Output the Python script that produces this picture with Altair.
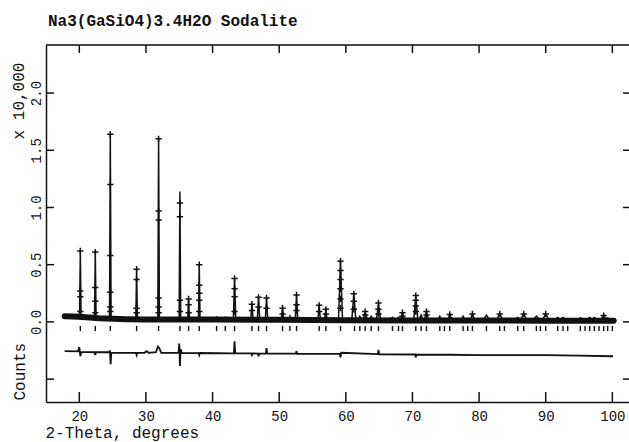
import altair as alt
import pandas as pd

TITLE = "Na3(GaSiO4)3.4H2O Sodalite"
X_TITLE = "2-Theta, degrees"
Y_TITLE = "Counts"
Y_NOTE = "x 10,000"

x_domain = [15, 102.5]
y_domain = [-0.70, 2.42]
x_ticks = [20, 30, 40, 50, 60, 70, 80, 90, 100]
y_ticks = [-0.5, 0.0, 0.5, 1.0, 1.5, 2.0]
y_label_values = [0.0, 0.5, 1.0, 1.5, 2.0]

# observed background band (x 10,000 counts)
bg_x = [17.8, 19.0, 20.0, 21.5, 23.0, 25.0, 27.0, 30.0, 35.0, 40.0, 50.0, 60.0, 70.0, 80.0, 90.0, 100.2]
bg_y = [0.050, 0.048, 0.045, 0.038, 0.032, 0.027, 0.024, 0.022, 0.021, 0.020, 0.018, 0.015, 0.013, 0.012, 0.011, 0.010]

# calculated profile peaks
peak_pos = [20.15, 22.4, 24.65, 28.6, 31.9, 35.1, 36.4, 38.0, 40.6, 41.9,
            43.3, 45.9, 46.9, 48.1, 50.5, 51.6, 52.6, 56.0, 57.0, 59.2,
            61.2, 62.1, 62.9, 63.8, 64.9, 67.0, 67.9, 68.5, 70.5, 71.3,
            72.1, 74.1, 74.8, 75.6, 77.6, 78.3, 79.0, 81.1, 83.1, 83.8,
            85.8, 86.7, 88.6, 89.2, 90.0, 91.8, 92.6, 93.3, 95.2, 96.6,
            97.3, 98.7, 99.3]
peak_h = [0.62, 0.61, 1.64, 0.46, 1.60, 1.14, 0.20, 0.50, 0.04, 0.04,
          0.38, 0.155, 0.215, 0.21, 0.12, 0.05, 0.235, 0.145, 0.11, 0.53,
          0.245, 0.05, 0.09, 0.05, 0.16, 0.04, 0.04, 0.08, 0.23, 0.06,
          0.09, 0.05, 0.03, 0.065, 0.05, 0.03, 0.07, 0.06, 0.07, 0.03,
          0.04, 0.07, 0.05, 0.03, 0.07, 0.04, 0.04, 0.03, 0.035, 0.04,
          0.04, 0.055, 0.035]
peak_hw = [0.12] * 8 + [0.18] * 11 + [0.3] * 18 + [0.45] * 16
peak_base = 0.02

# observed points (crosses)
obs_x = [20.15, 20.15, 20.15, 20.15,
         22.4, 22.4, 22.4, 22.4,
         24.65, 24.65, 24.65, 24.65, 24.65, 24.65,
         28.6, 28.6, 28.6, 28.6,
         31.9, 31.9, 31.9, 31.9, 31.9, 31.9,
         35.1, 35.1, 35.1, 35.1,
         36.4, 36.4, 36.4,
         38.0, 38.0, 38.0, 38.0, 38.0,
         43.3, 43.3, 43.3, 43.3,
         45.9, 45.9, 46.9, 46.9, 48.1, 48.1, 50.5, 50.5,
         52.6, 52.6, 52.6, 56.0, 56.0, 57.0, 57.0,
         59.2, 59.2, 59.2, 59.2, 59.2, 59.2,
         61.2, 61.2, 61.2, 62.9, 62.9, 64.9, 64.9, 64.9,
         68.5, 68.5, 70.5, 70.5, 70.5, 70.5, 72.1, 72.1,
         75.6, 79.0, 83.1, 86.7, 90.0, 98.7]
obs_y = [0.62, 0.27, 0.22, 0.09,
         0.61, 0.30, 0.18, 0.08,
         1.64, 1.20, 0.58, 0.26, 0.13, 0.09,
         0.46, 0.37, 0.12, 0.08,
         1.60, 0.97, 0.89, 0.21, 0.13, 0.08,
         1.04, 0.92, 0.19, 0.09,
         0.20, 0.15, 0.08,
         0.50, 0.32, 0.25, 0.19, 0.09,
         0.38, 0.29, 0.22, 0.09,
         0.155, 0.10, 0.215, 0.13, 0.21, 0.12, 0.12, 0.07,
         0.235, 0.15, 0.10, 0.145, 0.09, 0.11, 0.07,
         0.53, 0.45, 0.37, 0.29, 0.20, 0.12,
         0.245, 0.18, 0.11, 0.09, 0.06, 0.165, 0.11, 0.07,
         0.08, 0.05, 0.23, 0.19, 0.14, 0.09, 0.09, 0.06,
         0.065, 0.07, 0.07, 0.07, 0.07, 0.055]

# reflection positions
refl_pos = [20.15, 22.4, 24.65, 28.6, 31.9, 35.1, 36.4, 38.0, 40.6, 41.9,
            43.3, 45.9, 46.9, 48.1, 50.5, 51.6, 52.6, 56.0, 57.0, 59.2,
            61.3, 62.1, 62.9, 63.8, 64.9, 67.0, 67.9, 68.5, 70.5, 71.3,
            72.1, 74.1, 74.8, 75.6, 77.6, 78.3, 79.0, 81.1, 83.1, 83.8,
            85.8, 86.7, 88.6, 89.2, 90.0, 91.8, 92.6, 93.3, 95.2, 95.9,
            96.6, 97.3, 98.0, 98.7, 99.3, 100.0]
refl_top = -0.035
refl_bottom = -0.08

# difference curve
diff_x = [17.8, 19.8, 20.0, 20.15, 20.3, 22.3, 22.4, 22.5, 24.5, 24.6,
          24.7, 24.8, 28.5, 28.6, 28.7, 29.8, 30.1, 30.4, 31.5, 31.8,
          32.0, 32.3, 34.9, 35.0, 35.1, 35.2, 35.4, 37.9, 38.0, 38.1,
          43.2, 43.3, 43.4, 45.8, 45.9, 46.0, 46.8, 46.9, 47.0, 48.0,
          48.1, 48.2, 52.5, 52.6, 52.7, 59.1, 59.2, 59.3, 64.8, 64.9,
          65.0, 70.4, 70.5, 70.6, 75.6, 80.0, 85.0, 90.0, 95.0, 100.1]
diff_y = [-0.255, -0.258, -0.22, -0.30, -0.262, -0.265, -0.29, -0.265, -0.265, -0.25,
          -0.37, -0.27, -0.27, -0.29, -0.27, -0.27, -0.255, -0.27, -0.265, -0.215,
          -0.23, -0.27, -0.27, -0.19, -0.385, -0.24, -0.272, -0.272, -0.29, -0.272,
          -0.275, -0.17, -0.275, -0.275, -0.29, -0.275, -0.277, -0.30, -0.277, -0.277,
          -0.23, -0.278, -0.278, -0.255, -0.28, -0.28, -0.31, -0.27, -0.282, -0.245,
          -0.283, -0.285, -0.31, -0.285, -0.287, -0.29, -0.29, -0.29, -0.295, -0.30]

W, H = 583, 357
INK = "#111111"
FONT = "Liberation Mono"

xs = alt.Scale(domain=x_domain, nice=False, zero=False)
ys = alt.Scale(domain=y_domain, nice=False, zero=False)

x_axis = alt.Axis(values=x_ticks, format="d", ticks=False, tickSize=0, domain=True,
                  domainColor=INK, domainWidth=1.5, grid=False, labelFontSize=14,
                  labelColor=INK, labelPadding=7, labelFlush=False, labelFont=FONT,
                  title=X_TITLE, titleFont=FONT, titleFontSize=16, titleFontWeight="normal",
                  titleColor=INK, titleAnchor="start", titleAlign="left", titleX=-1,
                  titleY=35, titleBaseline="alphabetic")
y_axis = alt.Axis(values=y_label_values, format=".1f", ticks=False, tickSize=0, domain=True,
                  domainColor=INK, domainWidth=1.5, grid=False, labelFontSize=14,
                  labelColor=INK, labelFont=FONT, labelAngle=270, labelAlign="center",
                  labelBaseline="bottom", labelPadding=3, labelFlush=False,
                  title=Y_TITLE, titleFont=FONT, titleFontSize=16, titleFontWeight="normal",
                  titleColor=INK, titleAngle=270, titleAnchor="start", titleAlign="left",
                  titleX=-22, titleY=355, titleBaseline="alphabetic")


def X(field):
    return alt.X(field, scale=xs, axis=x_axis)


def Y(field):
    return alt.Y(field, scale=ys, axis=y_axis)


band = alt.Chart(pd.DataFrame({"x": bg_x, "y": bg_y})).mark_line(
    color=INK, strokeWidth=6, strokeCap="round", strokeJoin="round"
).encode(x=X("x:Q"), y=Y("y:Q"))

rows = []
for i, (p, h, hw) in enumerate(zip(peak_pos, peak_h, peak_hw)):
    rows += [{"pk": i, "x": p - hw, "y": peak_base}, {"pk": i, "x": p, "y": h},
             {"pk": i, "x": p + hw, "y": peak_base}]
calc = alt.Chart(pd.DataFrame(rows)).mark_line(color=INK, strokeWidth=1.5).encode(
    x=X("x:Q"), y=Y("y:Q"), detail="pk:N", order="x:Q")

obs = alt.Chart(pd.DataFrame({"x": obs_x, "y": obs_y})).mark_point(
    shape="M-1,0L1,0M0,-1L0,1", filled=False, size=40, strokeWidth=1.5, color=INK, opacity=1
).encode(x=X("x:Q"), y=Y("y:Q"))

refl = alt.Chart(pd.DataFrame({"x": refl_pos, "y": [refl_top] * len(refl_pos),
                               "y2": [refl_bottom] * len(refl_pos)})).mark_rule(
    color=INK, strokeWidth=1.4
).encode(x=X("x:Q"), y=Y("y:Q"), y2="y2:Q")

diff = alt.Chart(pd.DataFrame({"x": diff_x, "y": diff_y})).mark_line(
    color=INK, strokeWidth=1.8
).encode(x=X("x:Q"), y=Y("y:Q"))

xt = pd.DataFrame({"x": x_ticks})
yt = pd.DataFrame({"y": y_ticks})
bottom_ticks = alt.Chart(xt).mark_rule(color=INK, strokeWidth=1.5).encode(
    x=X("x:Q"), y=alt.value(H), y2=alt.value(H - 10))
top_ticks = alt.Chart(xt).mark_rule(color=INK, strokeWidth=1.5).encode(
    x=X("x:Q"), y=alt.value(0), y2=alt.value(8))
left_ticks = alt.Chart(yt).mark_rule(color=INK, strokeWidth=1.5).encode(
    y=Y("y:Q"), x=alt.value(0), x2=alt.value(8))
right_ticks = alt.Chart(yt).mark_rule(color=INK, strokeWidth=1.5).encode(
    y=Y("y:Q"), x=alt.value(W - 6), x2=alt.value(W))
top_frame = alt.Chart(pd.DataFrame({"t": [0]})).mark_rule(color=INK, strokeWidth=1.5).encode(
    x=alt.value(0), x2=alt.value(W), y=alt.value(0))

note = alt.Chart(pd.DataFrame({"t": [Y_NOTE]})).mark_text(
    angle=270, align="center", baseline="middle", font=FONT, fontSize=16, color=INK
).encode(text="t:N", x=alt.value(-27), y=alt.value(56))

chart = alt.layer(
    band, calc, obs, refl, diff, bottom_ticks, top_ticks, left_ticks, right_ticks, top_frame, note
).properties(
    width=W, height=H,
    title=alt.TitleParams(TITLE, anchor="start", frame="group", font=FONT, fontSize=16,
                          fontWeight="bold", color=INK, offset=2, baseline="alphabetic", dx=2),
    padding={"left": 46, "top": 45, "right": 0, "bottom": 40},
    autosize=alt.AutoSizeParams(type="none"),
).configure_view(stroke=None).configure(font=FONT, background="white")

chart.save("out.html", embed_options={"renderer": "svg", "actions": False})
